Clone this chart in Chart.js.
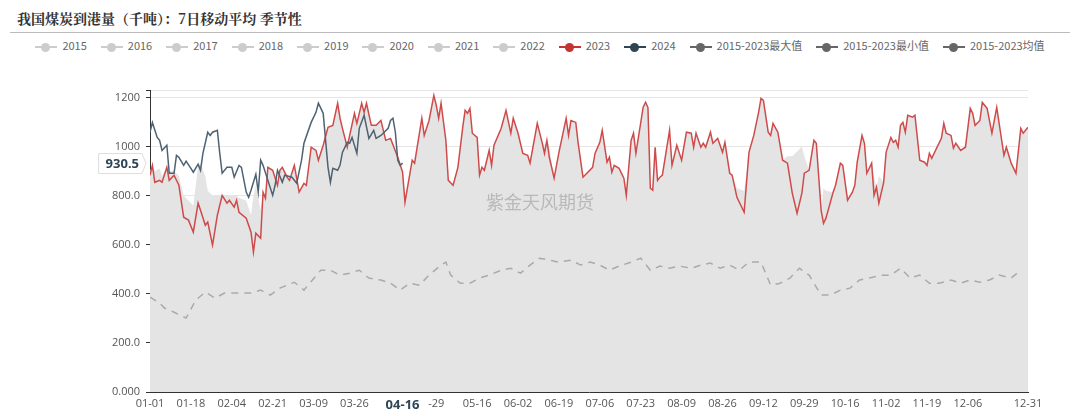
<!DOCTYPE html>
<html><head><meta charset="utf-8">
<script src="https://cdn.jsdelivr.net/npm/chart.js@4"></script>
<style>
body{margin:0;width:1080px;height:416px;overflow:hidden;background:#fff;font-family:"Noto Sans CJK SC","Noto Sans",sans-serif;}
#title{position:absolute;left:17px;top:8px;font-size:14px;font-weight:bold;color:#333;font-family:"Noto Serif CJK SC","Noto Sans CJK SC",serif;}
#hr{position:absolute;left:10px;right:10px;top:32px;border-top:1px solid #bbb;}
#legend{position:absolute;top:37px;left:0;width:1080px;text-align:center;font-size:11px;color:#666;white-space:nowrap;}
.li{display:inline-block;margin:0 7px;}
.sym{display:inline-block;position:relative;width:22px;height:10px;vertical-align:middle;margin-right:5px;}
.sym i{position:absolute;left:0;right:0;top:4px;height:2px;}
.sym b{position:absolute;left:6px;top:1px;width:9px;height:9px;border-radius:50%;}
canvas{position:absolute;left:0;top:0;}
</style></head><body>
<div id="title">我国煤炭到港量（千吨）：7日移动平均 季节性</div>
<div id="hr"></div>
<div id="legend"></div>
<canvas id="c" width="1080" height="416"></canvas>
<script>
const legendNames=["2015","2016","2017","2018","2019","2020","2021","2022","2023","2024","2015-2023最大值","2015-2023最小值","2015-2023均值"];
const legendColors=["#ccc","#ccc","#ccc","#ccc","#ccc","#ccc","#ccc","#ccc","#c23531","#2f4554","#666","#666","#666"];
const yTicks=[0,200,400,600,800,1000,1200];
const yTickLabels=["0.000","200.0","400.0","600.0","800.0","1000","1200"];
const xTickDays=[0,17,34,51,68,85,105,119,136,153,170,187,204,221,238,255,272,289,306,323,340,365];
const xTickLabels=["01-01","01-18","02-04","02-21","03-09","03-26","04-16","-29","05-16","06-02","06-19","07-06","07-23","08-09","08-26","09-12","09-29","10-16","11-02","11-19","12-06","12-31"];

const d2023=[0,1,2,4,5,7,8,10,12,14,16,18,20,21,23,24,26,28,30,32,33,35,36,37,40,42,43,44,46,47,48,49,51,53,54,55,57,58,60,62,64,65,67,69,70,72,74,76,78,79,80,82,83,85,86,88,89,90,92,94,96,98,100,103,105,106,109,110,113,114,116,118,119,120,121,123,124,126,128,130,131,132,133,134,136,137,138,139,141,142,143,146,148,150,151,153,155,157,158,161,163,164,165,166,168,170,173,174,175,177,178,180,184,185,187,188,190,191,192,193,195,197,198,200,201,202,205,206,207,208,209,210,211,212,213,215,216,217,219,221,223,225,226,227,229,230,231,233,234,236,238,239,241,242,244,247,249,251,253,254,255,257,258,259,261,263,265,267,269,271,272,274,276,277,279,280,281,284,285,287,288,290,292,293,294,296,297,298,300,301,302,303,305,306,308,309,310,311,312,313,314,315,317,318,320,322,323,324,325,327,329,330,331,333,334,335,337,339,341,342,343,345,346,348,350,352,353,355,356,358,360,362,363,365];
const v2023=[883,923,854,862,854,915,862,883,842,712,700,651,769,740,679,692,598,720,801,769,781,753,781,732,708,651,570,647,626,814,789,915,903,842,903,915,875,862,923,814,850,842,997,984,944,1005,1078,1086,1176,1115,1074,997,1045,1135,1094,1176,1139,1176,1086,1086,1106,1025,1033,956,895,773,944,932,1115,1045,1106,1208,1168,1115,1176,1025,862,842,915,1078,1147,1135,1155,1054,1037,883,915,903,984,923,1005,1074,1147,1054,1115,1054,972,964,932,1094,1017,972,1025,956,871,976,1115,1045,1106,1098,1013,875,915,972,1017,1066,936,956,895,923,911,871,801,1025,1054,972,1159,1180,1159,830,822,997,862,875,883,1005,1066,923,1005,944,1058,1054,997,1054,997,1013,997,1058,1013,1033,976,1017,891,883,793,732,976,1045,1139,1196,1188,1058,1045,1094,1058,944,932,810,728,810,891,903,1025,1013,740,687,708,814,842,932,923,781,814,842,936,1045,1013,891,932,801,834,769,854,976,1037,1017,1025,997,1086,1098,1058,1127,1119,1127,944,936,923,972,952,993,1033,1094,1054,1045,993,1013,984,997,1155,1135,1086,1106,1180,1155,1054,1159,1094,964,997,932,891,1074,1054,1078];
const vMax=[900,923,900,910,880,915,900,900,880,800,780,760,920,930,880,820,800,800,801,800,800,800,800,790,780,720,800,840,740,814,789,915,903,842,903,915,875,862,923,814,850,842,997,984,944,1005,1078,1086,1176,1115,1074,997,1045,1135,1094,1176,1139,1176,1086,1086,1106,1025,1033,956,895,773,944,932,1115,1045,1106,1208,1168,1115,1176,1025,862,842,915,1078,1147,1135,1155,1054,1037,883,915,903,984,923,1005,1074,1147,1054,1115,1054,972,964,932,1094,1017,1005,1025,1000,871,976,1115,1045,1106,1098,1013,875,915,972,1017,1066,936,956,895,923,911,871,801,1025,1054,972,1159,1180,1159,830,822,997,862,875,883,1005,1066,923,1005,944,1058,1054,997,1054,997,1013,997,1058,1013,1033,976,1017,891,883,830,820,976,1045,1139,1196,1188,1058,1045,1094,1058,944,960,960,980,1000,960,903,1025,1013,740,830,820,814,842,932,923,781,814,842,936,1045,1013,891,932,880,834,880,854,976,1037,1017,1025,997,1086,1098,1058,1127,1119,1127,944,936,923,972,952,993,1033,1094,1054,1045,993,1013,984,997,1155,1135,1086,1106,1180,1155,1054,1159,1094,964,997,932,891,1074,1054,1078];
const d2024=[0,1,3,4,5,7,8,10,11,12,14,15,17,18,20,21,22,24,25,26,28,29,30,32,34,35,37,38,40,41,42,44,45,46,47,49,51,52,53,55,56,59,61,63,64,67,69,70,72,73,74,75,76,78,79,80,82,83,84,86,87,89,91,93,94,96,99,100,101,102,103,104,105];
const v2024=[1058,1098,1037,1025,984,1005,891,891,964,956,923,940,911,895,928,903,972,1058,1045,1058,1066,972,891,915,915,875,923,915,814,793,822,887,814,944,923,862,801,842,903,854,883,875,850,944,1013,1098,1139,1176,1135,1025,915,854,911,903,923,976,1017,1013,1037,972,1074,1127,1033,1066,1033,1045,1074,1106,1115,1058,944,923,932];
const dAvg=[0,4,6,10,15,19,23,27,31,37,42,46,50,54,60,64,71,75,79,83,87,91,96,100,104,108,112,116,121,123,125,129,133,137,141,146,150,154,158,162,166,170,175,179,183,187,191,195,200,204,208,212,216,220,225,229,233,237,241,245,249,254,258,262,266,270,274,279,283,287,291,295,299,304,308,312,316,320,324,328,333,337,341,345,349,353,358,362];
const vAvg=[386,362,342,325,301,374,407,382,403,403,403,415,395,423,447,415,496,496,476,484,496,464,456,443,415,443,435,476,517,529,476,443,443,464,476,496,504,484,517,545,537,529,537,517,529,517,496,513,529,545,496,513,504,513,504,517,525,504,517,496,529,529,435,443,464,504,476,395,395,415,423,456,464,476,476,504,464,476,443,443,456,443,456,447,456,476,464,496];
const crossValue=930.5;
const crossLabel="930.5";

document.getElementById('legend').innerHTML=legendNames.map((n,i)=>`<span class="li"><span class="sym"><i style="background:${legendColors[i]}"></i><b style="background:${legendColors[i]}"></b></span>${n}</span>`).join('');
const pts=(d,v)=>d.map((x,i)=>({x:x,y:v[i]}));
const crossPlugin={id:'cross',afterDraw(ch){
  const y=ch.scales.y.getPixelForValue(crossValue);const c=ch.ctx;
  c.save();c.font='bold 13px "Noto Sans"';const w=c.measureText(crossLabel).width+10;
  const x1=146,x0=x1-w-4;
  c.fillStyle='#fff';c.strokeStyle='#ddd';c.beginPath();c.moveTo(x0,y-10);c.lineTo(x1-4,y-10);c.lineTo(x1,y);c.lineTo(x1-4,y+10);c.lineTo(x0,y+10);c.closePath();c.fill();c.stroke();
  c.fillStyle='#2f4554';c.textAlign='right';c.textBaseline='middle';c.fillText(crossLabel,x1-7,y+1);
  c.font='18px "Noto Sans CJK SC"';c.fillStyle='rgba(150,150,150,0.55)';c.textAlign='center';c.fillText('紫金天风期货',540,202);
  c.restore();}};
new Chart(document.getElementById('c'),{
 type:'line',
 data:{datasets:[
  {label:'2023',data:pts(d2023,v2023),borderColor:'#cf4b4b',borderWidth:1.5,pointRadius:0,tension:0,order:1},
  {label:'2024',data:pts(d2024,v2024),borderColor:'#4e6272',borderWidth:1.5,pointRadius:0,tension:0,order:0},
  {label:'avg',data:pts(dAvg,vAvg),borderColor:'#aaa',borderWidth:1.5,borderDash:[7,6],pointRadius:0,tension:0,order:2},
  {label:'max',data:pts(d2023,vMax),borderColor:'rgba(0,0,0,0)',borderWidth:0,backgroundColor:'#e4e4e4',fill:'origin',pointRadius:0,tension:0,order:3}
 ]},
 options:{responsive:false,animation:false,events:[],
  layout:{padding:{top:90,right:52,left:0,bottom:0}},
  plugins:{legend:{display:false},tooltip:{enabled:false}},
  scales:{
   x:{type:'linear',min:0,max:365,
     afterBuildTicks(s){s.ticks=xTickDays.map(v=>({value:v}));},
     afterFit(s){s.height=24;},
     grid:{display:false,drawTicks:true,tickLength:4,tickColor:'#333'},border:{color:'#333'},
     ticks:{autoSkip:false,maxRotation:0,padding:1,
       font:c=>({family:'"Open Sans"',weight:xTickLabels[c.index]==='04-16'?'bold':'normal',size:xTickLabels[c.index]==='04-16'?13:11}),
       color:c=>xTickLabels[c.index]==='04-16'?'#2f4554':'#555',
       callback:(v,i)=>xTickLabels[i]}},
   y:{min:0,max:1230,
     afterBuildTicks(s){s.ticks=yTicks.map(v=>({value:v})).concat([{value:1230}]);},
     afterFit(s){s.width=150;},
     grid:{color:'#e6e6e6',tickLength:4,tickColor:'#333'},border:{color:'#333'},
     ticks:{color:'#555',font:{size:11,family:'"Open Sans"'},padding:6,
       callback:v=>{const i=yTicks.indexOf(v);return i<0?'':yTickLabels[i];}}}
  }},
 plugins:[crossPlugin]
});
</script></body></html>
